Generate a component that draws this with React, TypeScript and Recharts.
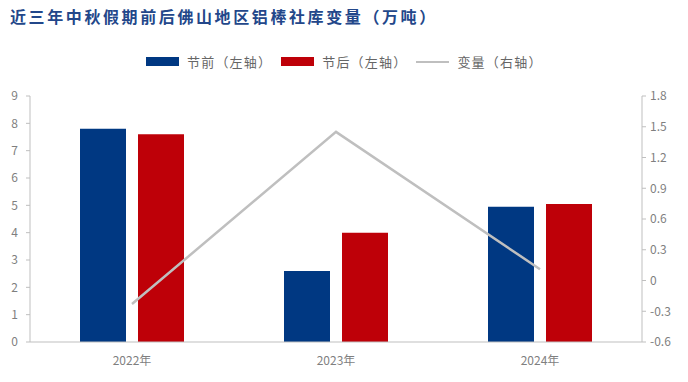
import React from "react";
import { ComposedChart, Bar, Line, XAxis, YAxis } from "recharts";

const years = ["2022年", "2023年", "2024年"];
const beforeHoliday = [7.8, 2.6, 4.95];
const afterHoliday = [7.6, 4.0, 5.05];
const changeValues = [-0.23, 1.45, 0.11];
const leftTicks = [0, 1, 2, 3, 4, 5, 6, 7, 8, 9];
const rightTicks = [-0.6, -0.3, 0, 0.3, 0.6, 0.9, 1.2, 1.5, 1.8];
const edgeTicks = [0, 1, 2, 3];

const BLUE = "#003882";
const RED = "#BE0008";
const GRAY = "#BFBFBF";
const AXIS = "#BFBFBF";
const TEXT = "#7F7F7F";
const FONT = "'Noto Sans CJK SC', 'Noto Sans', sans-serif";

const data = years.map((year, i) => ({
  year,
  before: beforeHoliday[i],
  after: afterHoliday[i],
  change: changeValues[i],
}));

const legendItems = [
  { label: "节前（左轴）", color: BLUE, type: "bar" },
  { label: "节后（左轴）", color: RED, type: "bar" },
  { label: "变量（右轴）", color: GRAY, type: "line" },
];

const Legend: React.FC = () => (
  <div
    style={{
      position: "absolute",
      top: 52,
      left: 146,
      display: "flex",
      alignItems: "center",
      fontFamily: FONT,
      fontSize: 13,
      letterSpacing: 1.2,
      color: "#666666",
    }}
  >
    {legendItems.map((item) => (
      <div key={item.label} style={{ display: "flex", alignItems: "center", marginRight: 9 }}>
        <span
          style={{
            display: "inline-block",
            width: 33,
            height: item.type === "bar" ? 9 : 2,
            background: item.color,
            marginRight: 8,
          }}
        />
        <span>{item.label}</span>
      </div>
    ))}
  </div>
);

export default function App() {
  return (
    <div style={{ position: "absolute", left: 0, top: 0, width: 688, height: 382, background: "#fff" }}>
      <div
        style={{
          position: "absolute",
          left: 10,
          top: 4,
          fontFamily: FONT,
          fontWeight: 700,
          fontSize: 16,
          letterSpacing: 2.6,
          color: "#23478A",
          whiteSpace: "nowrap",
        }}
      >
        近三年中秋假期前后佛山地区铝棒社库变量（万吨）
      </div>
      <Legend />
      <ComposedChart
        width={688}
        height={382}
        data={data}
        margin={{ top: 96, right: 0, bottom: 14, left: 0 }}
        barGap={12}
        style={{ fontFamily: FONT }}
      >
        <XAxis
          xAxisId="edge"
          type="number"
          domain={[0, 3]}
          ticks={edgeTicks}
          height={0}
          axisLine={false}
          tickLine={{ stroke: AXIS }}
          tickSize={5}
          tickFormatter={() => ""}
        />
        <XAxis
          dataKey="year"
          height={26}
          axisLine={{ stroke: AXIS }}
          tickLine={false}
          tickSize={0}
          tickMargin={14}
          tick={{ fill: TEXT, fontSize: 12 }}
        />
        <YAxis
          yAxisId="left"
          domain={[0, 9]}
          ticks={leftTicks}
          width={30}
          axisLine={{ stroke: AXIS }}
          tickLine={{ stroke: AXIS }}
          tickSize={4}
          tickMargin={8}
          tick={{ fill: TEXT, fontSize: 12 }}
        />
        <YAxis
          yAxisId="right"
          orientation="right"
          domain={[-0.6, 1.8]}
          ticks={rightTicks}
          width={46}
          axisLine={{ stroke: AXIS }}
          tickLine={{ stroke: AXIS }}
          tickSize={4}
          tickMargin={4}
          tick={{ fill: TEXT, fontSize: 12, textAnchor: "start" }}
        />
        <Bar yAxisId="left" dataKey="before" fill={BLUE} barSize={46} isAnimationActive={false} />
        <Bar yAxisId="left" dataKey="after" fill={RED} barSize={46} isAnimationActive={false} />
        <Line
          yAxisId="right"
          dataKey="change"
          stroke={GRAY}
          strokeWidth={2.5}
          dot={false}
          activeDot={false}
          isAnimationActive={false}
        />
      </ComposedChart>
    </div>
  );
}
